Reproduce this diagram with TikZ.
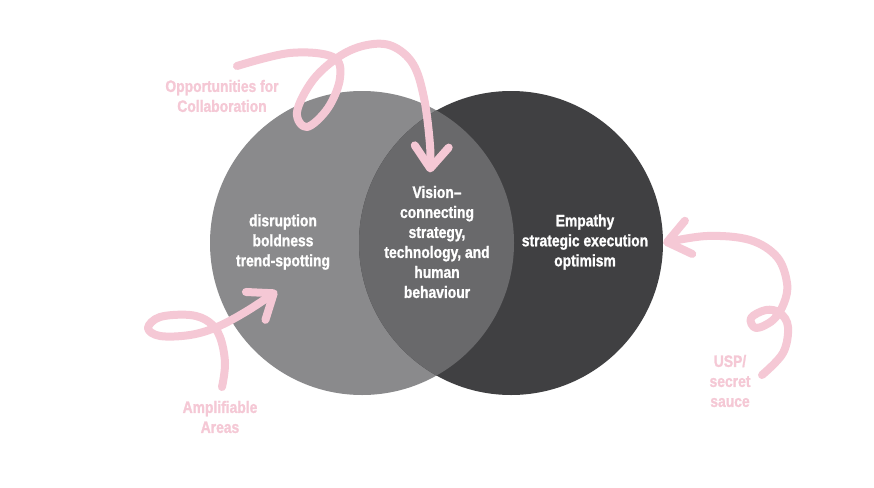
\documentclass[tikz,border=0pt]{standalone}
\usepackage{fontspec}
\setmainfont{Liberation Sans}[UprightFont=* Bold, BoldFont=* Bold, FakeStretch=0.84, FakeBold=1.2]
\usepackage{tikz}
\usetikzlibrary{arrows.meta,calc}
\definecolor{lightgrey}{HTML}{8A8A8C}
\definecolor{midgrey}{HTML}{69696B}
\definecolor{darkgrey}{HTML}{404042}
\definecolor{softpink}{HTML}{F5C8D5}
\tikzset{
  ring/.style={circle, minimum size=304pt, inner sep=0pt},
  inside/.style={text=white, align=center, font=\fontsize{16.5}{20}\selectfont},
  remark/.style={text=softpink, align=center, font=\fontsize{16.5}{20}\selectfont},
  swirl/.style={draw=softpink, line width=8pt, line cap=round, line join=round,
    -{Straight Barb[round, length=22pt, width=34pt]}}
}

\begin{document}
\begin{tikzpicture}[x=1pt, y=-1pt]

    \fill[white] (0,0) rectangle (874,487);

    % the two circles and their overlap
    \node [ring, fill=lightgrey] (leftring) at (362,243) {};
    \node [ring, fill=darkgrey] (rightring) at (511,243) {};
    \begin{scope}
        \clip (leftring.center) circle (152);
        \fill [midgrey] (rightring.center) circle (152);
    \end{scope}

    \node [inside] (strengths) at (283,242) {disruption\\boldness\\trend-spotting};
    \node [inside] (vision) at (437,242) {Vision--\\connecting\\strategy,\\technology, and\\human\\behaviour};
    \node [inside] (empathy) at (585,242) {Empathy\\strategic execution\\optimism};

    \node [remark] (collab) at (222,96) {Opportunities for\\Collaboration};
    \node [remark] (amplify) at (220,417) {Amplifiable\\Areas};
    \node [remark] (usp) at (730,381) {USP/\\secret\\sauce};

    \coordinate (collabstart) at (237,66);
    \coordinate (collabtip) at ($(vision.north)+(-7,-10)$);
    \coordinate (amplifystart) at (222,387);
    \coordinate (amplifytip) at (277,291);
    \coordinate (uspstart) at (762,375);
    \coordinate (usptip) at (rightring.east);

    \draw [swirl] plot [smooth, tension=0.6] coordinates {(collabstart) (290,53) (333,57) (340,78)
        (328,108) (307,127) (297,112) (313,80) (340,56) (367,45) (392,46) (413,64) (424,98)
        (430,145) (collabtip)};
    \draw [swirl] plot [smooth, tension=0.6] coordinates {(amplifystart) (225,363) (220,337)
        (209,322) (190,315) (160,317) (148,328) (160,336) (190,335) (217,327) (247,311)
        (amplifytip)};
    \draw [swirl] plot [smooth, tension=0.6] coordinates {(uspstart) (783,353) (788,327)
        (780,313) (766,310) (751,318) (756,328) (773,320) (784,303) (787,283) (777,257)
        (750,240) (707,236) (usptip)};
\end{tikzpicture}
\end{document}
